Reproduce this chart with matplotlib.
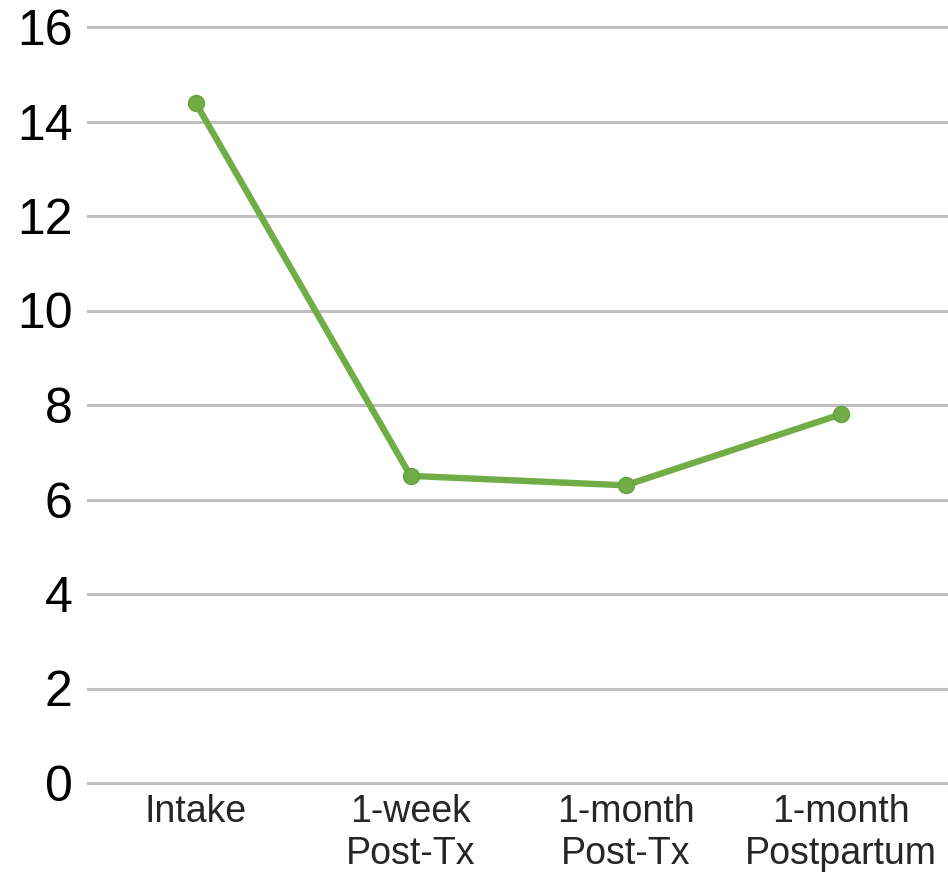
import matplotlib
matplotlib.use("Agg")
import matplotlib.pyplot as plt

# ── Data ─────────────────────────────────────────────────────────────
timepoints = ["Intake", "1-week\nPost-Tx", "1-month\nPost-Tx", "1-month\nPostpartum"]
scores = [14.4, 6.5, 6.3, 7.8]
y_ticks = [0, 2, 4, 6, 8, 10, 12, 14, 16]

LINE_GREEN = "#70AD47"
GRID_GRAY = "#BFBFBF"

plt.rcParams["font.family"] = ["Liberation Sans", "DejaVu Sans"]

fig = plt.figure(figsize=(9.48, 8.82), dpi=100)
ax = fig.add_axes([88 / 948, 1 - 783 / 882, 1 - 88 / 948, (783 - 27) / 882])

x = list(range(len(timepoints)))
ax.plot(x, scores, color=LINE_GREEN, linewidth=4.6, marker="o", markersize=11.5,
        markerfacecolor=LINE_GREEN, markeredgecolor="#66A03F", markeredgewidth=1,
        solid_capstyle="round", solid_joinstyle="round", zorder=3)

ax.set_xlim(-0.5, len(timepoints) - 0.5)
ax.set_ylim(0, 16)
ax.set_yticks(y_ticks)
ax.set_xticks(x)
ax.set_xticklabels(timepoints, fontsize=27, linespacing=1.2, color="#262626")
ax.tick_params(axis="y", labelsize=36, length=0, pad=11)
ax.tick_params(axis="x", length=0, pad=8)

ax.grid(axis="y", color=GRID_GRAY, linewidth=2.2)
for gl in ax.get_ygridlines():
    gl.set_clip_on(False)
ax.set_axisbelow(True)
for spine in ax.spines.values():
    spine.set_visible(False)

fig.savefig("out.png", dpi=100)
